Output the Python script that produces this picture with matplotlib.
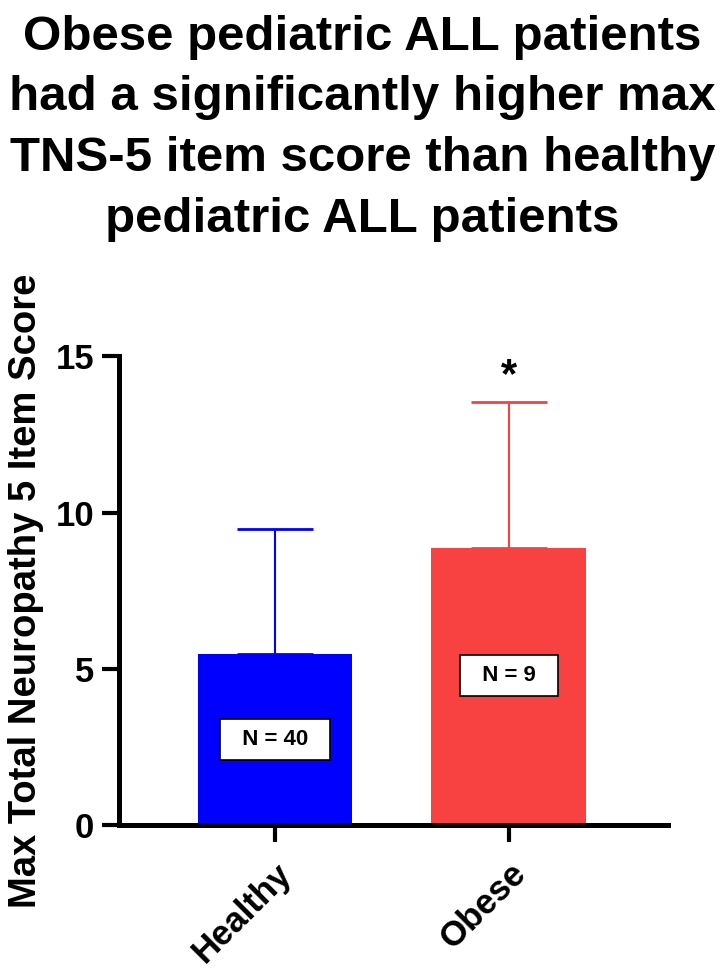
import matplotlib
matplotlib.use('Agg')
import matplotlib.pyplot as plt

plt.rcParams['font.family'] = ['Liberation Sans', 'DejaVu Sans']
plt.rcParams['font.weight'] = 'bold'

groups = ['Healthy', 'Obese']
means = [5.47, 8.88]
sds = [4.0, 4.67]
counts = [40, 9]
colors = ['#0000FF', '#F84242']
yticks = [0, 5, 10, 15]
title = ('Obese pediatric ALL patients\nhad a significantly higher max\n'
         'TNS-5 item score than healthy\npediatric ALL patients')
ylabel = 'Max Total Neuropathy 5 Item Score'
label_y = [2.73, 4.79]

fig = plt.figure(figsize=(7.25, 9.71), dpi=100)
ax = fig.add_axes([0.164, 0.1504, 0.757, 0.4825])

x = list(range(len(groups)))
ax.bar(x, means, width=0.662, color=colors, zorder=2)
for xi, m, s, c in zip(x, means, sds, colors):
    ax.errorbar(xi, m, yerr=[[0], [s]], fmt='none', ecolor=c, elinewidth=1.5,
                capsize=27.5, capthick=2, zorder=1)

for xi, n, ly in zip(x, counts, label_y):
    ax.text(xi, ly, '  N = %d  ' % n, ha='center', va='center', fontsize=16,
            fontweight='bold', zorder=3,
            bbox=dict(boxstyle='square,pad=0.45', fc='white', ec='black', lw=1.2))

ax.annotate('*', xy=(1, means[1] + sds[1]), xytext=(0, 4), textcoords='offset points',
            ha='center', va='bottom', fontsize=30, fontweight='bold')

ax.set_xlim(-0.667, 1.679)
ax.set_ylim(0, 15)
ax.set_yticks(yticks)
ax.set_xticks(x)
ax.set_xticklabels(groups, rotation=45, ha='right', rotation_mode='anchor',
                   fontsize=25, fontweight='bold')
ax.tick_params(axis='y', labelsize=25, width=3, length=12, pad=6)
ax.tick_params(axis='x', width=3, length=12, pad=11)
for lab in ax.get_yticklabels():
    lab.set_fontweight('bold')
for side in ['top', 'right']:
    ax.spines[side].set_visible(False)
for side in ['left', 'bottom']:
    ax.spines[side].set_linewidth(3.6)
ax.set_ylabel(ylabel, fontsize=27.5, fontweight='bold', labelpad=8)

fig.suptitle(title, fontsize=35.5, fontweight='bold', y=0.985, va='top',
             linespacing=1.45)

fig.savefig('out.png', dpi=100)
